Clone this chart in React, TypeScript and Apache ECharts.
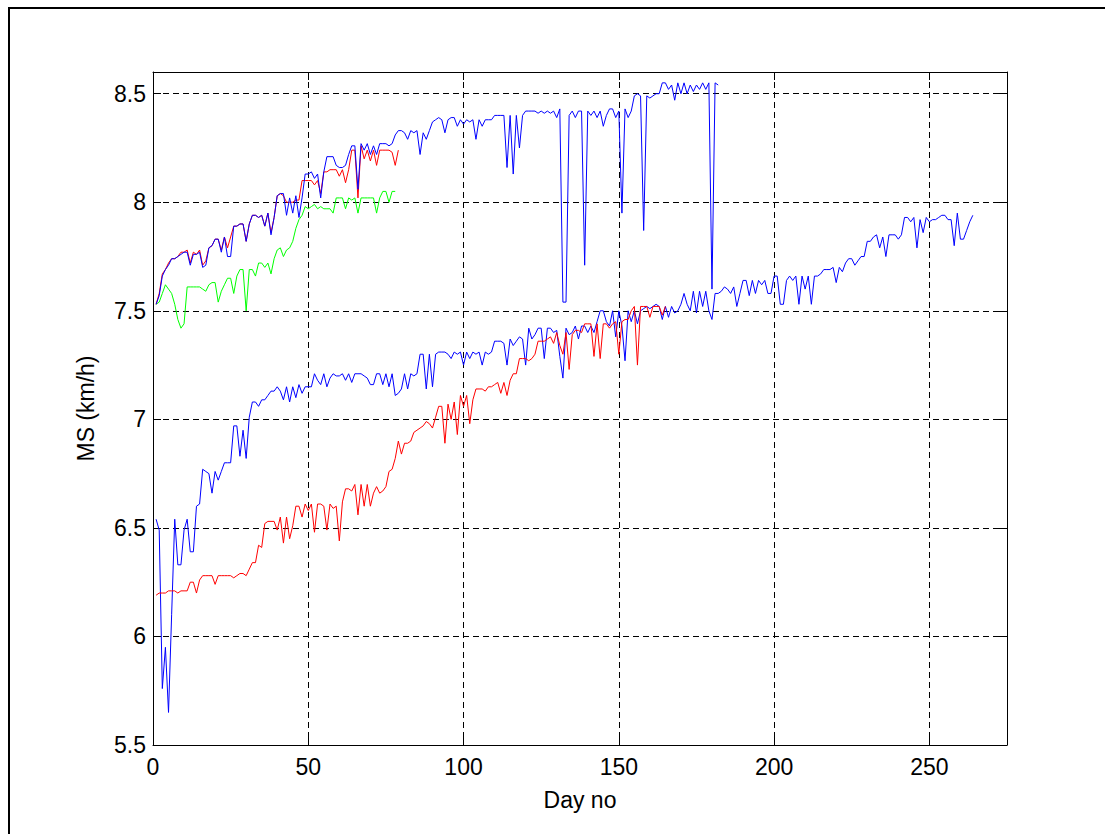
import React, { useEffect, useRef } from "react";
import * as echarts from "echarts";

// Upper blue series, days 1..182
const upperBlue = [
  7.53, 7.57, 7.66, 7.69, 7.71, 7.74, 7.74, 7.75, 7.76, 7.77,
  7.77, 7.71, 7.76, 7.76, 7.77, 7.70, 7.71, 7.79, 7.80, 7.83,
  7.83, 7.77, 7.84, 7.75, 7.75, 7.89, 7.89, 7.90, 7.90, 7.82,
  7.90, 7.94, 7.94, 7.93, 7.94, 7.89, 7.95, 7.85, 7.93, 8.03,
  8.04, 8.04, 7.94, 8.02, 7.95, 8.03, 7.93, 8.02, 8.13, 8.13,
  8.14, 8.11, 8.13, 8.02, 8.14, 8.21, 8.21, 8.21, 8.17, 8.16,
  8.16, 8.17, 8.22, 8.26, 8.26, 8.06, 8.27, 8.24, 8.27, 8.22,
  8.26, 8.22, 8.27, 8.27, 8.27, 8.26, 8.27, 8.31, 8.33, 8.33,
  8.32, 8.29, 8.33, 8.32, 8.33, 8.22, 8.32, 8.29, 8.33, 8.37,
  8.38, 8.39, 8.38, 8.32, 8.38, 8.39, 8.39, 8.35, 8.38, 8.36,
  8.38, 8.37, 8.38, 8.29, 8.38, 8.35, 8.38, 8.38, 8.38, 8.40,
  8.40, 8.40, 8.40, 8.16, 8.40, 8.13, 8.40, 8.25, 8.40, 8.42,
  8.42, 8.42, 8.42, 8.41, 8.42, 8.41, 8.42, 8.41, 8.42, 8.39,
  8.43, 7.54, 7.54, 8.40, 8.42, 8.39, 8.42, 8.42, 7.71, 8.42,
  8.40, 8.42, 8.39, 8.42, 8.35, 8.40, 8.43, 8.43, 8.39, 8.42,
  7.95, 8.43, 8.39, 8.42, 8.49, 8.50, 8.49, 7.87, 8.49, 8.48,
  8.49, 8.50, 8.50, 8.55, 8.55, 8.52, 8.54, 8.47, 8.55, 8.50,
  8.55, 8.50, 8.54, 8.51, 8.54, 8.52, 8.55, 8.52, 8.55, 7.60,
  8.55, 8.54,
];

// Upper red series, days 1..79
const upperRed = [
  7.53, 7.58, 7.67, 7.69, 7.72, 7.74, 7.74, 7.75, 7.77, 7.77,
  7.78, 7.72, 7.77, 7.76, 7.78, 7.71, 7.73, 7.79, 7.80, 7.83,
  7.83, 7.78, 7.84, 7.79, 7.84, 7.89, 7.89, 7.90, 7.90, 7.82,
  7.90, 7.94, 7.94, 7.93, 7.94, 7.89, 7.95, 7.86, 7.93, 8.03,
  8.04, 8.03, 8.00, 8.00, 8.00, 8.01, 8.01, 8.10, 8.10, 8.10,
  8.10, 8.08, 8.10, 8.04, 8.14, 8.14, 8.15, 8.15, 8.15, 8.12,
  8.15, 8.09, 8.15, 8.24, 8.24, 8.02, 8.26, 8.20, 8.24, 8.19,
  8.24, 8.17, 8.24, 8.24, 8.24, 8.24, 8.23, 8.17, 8.24,
];

// Green series, days 1..78
const green = [
  7.53, 7.54, 7.58, 7.62, 7.60, 7.58, 7.53, 7.46, 7.42, 7.44,
  7.61, 7.61, 7.61, 7.61, 7.61, 7.60, 7.59, 7.62, 7.63, 7.63,
  7.54, 7.59, 7.62, 7.65, 7.65, 7.58, 7.66, 7.69, 7.69, 7.50,
  7.69, 7.69, 7.66, 7.72, 7.72, 7.70, 7.72, 7.67, 7.74, 7.78,
  7.79, 7.75, 7.78, 7.79, 7.82, 7.88, 7.92, 7.94, 7.98, 7.97,
  7.98, 7.99, 7.97, 7.98, 7.97, 7.97, 7.97, 7.95, 8.02, 8.02,
  8.02, 7.97, 8.02, 8.01, 8.02, 7.95, 8.02, 8.02, 8.02, 8.02,
  8.02, 7.95, 8.02, 8.05, 8.05, 8.00, 8.05, 8.05,
];

// Lower blue series, days 1..264
const lowerBlue = [
  6.54, 6.49, 5.76, 5.95, 5.65, 6.10, 6.54, 6.33, 6.33, 6.49,
  6.54, 6.39, 6.39, 6.60, 6.61, 6.77, 6.76, 6.75, 6.66, 6.76,
  6.72, 6.76, 6.80, 6.80, 6.80, 6.97, 6.97, 6.83, 6.95, 6.82,
  7.01, 7.08, 7.08, 7.06, 7.09, 7.09, 7.11, 7.13, 7.13, 7.15,
  7.13, 7.09, 7.15, 7.08, 7.15, 7.10, 7.16, 7.12, 7.15, 7.15,
  7.15, 7.21, 7.18, 7.16, 7.21, 7.15, 7.19, 7.21, 7.20, 7.20,
  7.21, 7.18, 7.21, 7.17, 7.21, 7.21, 7.21, 7.20, 7.19, 7.16,
  7.16, 7.21, 7.21, 7.16, 7.21, 7.15, 7.21, 7.11, 7.12, 7.14,
  7.21, 7.14, 7.21, 7.20, 7.21, 7.30, 7.30, 7.14, 7.30, 7.15,
  7.30, 7.31, 7.31, 7.31, 7.30, 7.28, 7.31, 7.30, 7.31, 7.25,
  7.31, 7.28, 7.31, 7.30, 7.31, 7.25, 7.31, 7.30, 7.31, 7.36,
  7.36, 7.36, 7.35, 7.25, 7.37, 7.34, 7.36, 7.38, 7.37, 7.25,
  7.42, 7.37, 7.39, 7.42, 7.42, 7.28, 7.42, 7.42, 7.40, 7.41,
  7.29, 7.19, 7.42, 7.39, 7.40, 7.43, 7.37, 7.43, 7.43, 7.40,
  7.43, 7.40, 7.45, 7.50, 7.50, 7.45, 7.43, 7.50, 7.38, 7.50,
  7.43, 7.27, 7.50, 7.45, 7.50, 7.44, 7.50, 7.51, 7.52, 7.51,
  7.52, 7.53, 7.52, 7.46, 7.52, 7.47, 7.52, 7.49, 7.50, 7.53,
  7.58, 7.53, 7.50, 7.59, 7.49, 7.59, 7.52, 7.59, 7.50, 7.46,
  7.58, 7.58, 7.59, 7.61, 7.60, 7.58, 7.61, 7.52, 7.58, 7.64,
  7.64, 7.57, 7.64, 7.58, 7.64, 7.62, 7.64, 7.58, 7.58, 7.66,
  7.66, 7.53, 7.53, 7.64, 7.66, 7.64, 7.66, 7.53, 7.66, 7.60,
  7.66, 7.53, 7.66, 7.66, 7.67, 7.69, 7.69, 7.69, 7.70, 7.63,
  7.70, 7.68, 7.72, 7.74, 7.74, 7.71, 7.73, 7.75, 7.75, 7.82,
  7.82, 7.84, 7.85, 7.79, 7.84, 7.75, 7.85, 7.85, 7.85, 7.83,
  7.85, 7.93, 7.93, 7.91, 7.93, 7.79, 7.92, 7.86, 7.93, 7.91,
  7.92, 7.92, 7.93, 7.94, 7.94, 7.92, 7.92, 7.80, 7.95, 7.83,
  7.83, 7.87, 7.91, 7.94,
];

// Lower red series, days 1..165
const lowerRed = [
  6.19, 6.20, 6.20, 6.20, 6.21, 6.21, 6.21, 6.20, 6.21, 6.21,
  6.21, 6.25, 6.25, 6.20, 6.26, 6.28, 6.28, 6.28, 6.28, 6.24,
  6.28, 6.28, 6.28, 6.28, 6.28, 6.27, 6.28, 6.29, 6.29, 6.28,
  6.31, 6.34, 6.34, 6.42, 6.41, 6.52, 6.53, 6.53, 6.53, 6.49,
  6.55, 6.43, 6.55, 6.45, 6.51, 6.60, 6.60, 6.55, 6.61, 6.58,
  6.61, 6.48, 6.61, 6.61, 6.60, 6.49, 6.61, 6.59, 6.60, 6.44,
  6.62, 6.68, 6.68, 6.67, 6.70, 6.56, 6.70, 6.60, 6.70, 6.60,
  6.66, 6.69, 6.66, 6.67, 6.69, 6.76, 6.77, 6.82, 6.90, 6.84,
  6.89, 6.89, 6.90, 6.94, 6.95, 6.96, 6.97, 6.99, 6.98, 6.96,
  7.01, 7.06, 7.06, 6.89, 7.07, 7.00, 7.08, 6.93, 7.11, 7.06,
  7.11, 6.98, 7.09, 7.14, 7.14, 7.14, 7.13, 7.15, 7.15, 7.16,
  7.17, 7.12, 7.17, 7.11, 7.18, 7.21, 7.21, 7.28, 7.28, 7.28,
  7.27, 7.28, 7.30, 7.36, 7.36, 7.36, 7.37, 7.38, 7.35, 7.40,
  7.34, 7.30, 7.40, 7.23, 7.39, 7.41, 7.41, 7.40, 7.44, 7.44,
  7.44, 7.29, 7.44, 7.28, 7.44, 7.44, 7.42, 7.44, 7.45, 7.30,
  7.45, 7.46, 7.46, 7.50, 7.52, 7.25, 7.52, 7.52, 7.52, 7.47,
  7.52, 7.52, 7.52, 7.48, 7.52,
];

const xTicks = [0, 50, 100, 150, 200, 250];
const yTicks = [5.5, 6, 6.5, 7, 7.5, 8, 8.5];

const toPairs = (arr: number[]) => arr.map((v, i) => [i + 1, v]);

const FONT = "'Liberation Sans', Arial, Helvetica, sans-serif";

export default function App() {
  const ref = useRef<HTMLDivElement>(null);
  useEffect(() => {
    if (!ref.current) return;
    const chart = echarts.init(ref.current, null, { renderer: "svg" });
    const lbl = {
      color: "#000",
      fontSize: 23,
      fontFamily: FONT,
    };
    const mkX = (pos: "bottom" | "top", main: boolean) => ({
      type: "value",
      position: pos,
      min: 0,
      max: 275,
      interval: 50,
      name: main ? "Day no" : "",
      nameLocation: "middle",
      nameGap: 43,
      nameTextStyle: { ...lbl, fontSize: 23 },
      axisLine: { show: true, onZero: false, lineStyle: { color: "#000", width: 1 } },
      axisTick: { show: true, inside: true, length: 8, lineStyle: { color: "#000" } },
      axisLabel: {
        show: main,
        ...lbl,
        margin: 10,
        showMaxLabel: false,
        formatter: (v: number) => (xTicks.includes(v) ? String(v) : ""),
      },
      splitLine: main
        ? { show: true, lineStyle: { color: "#000", type: [6, 4], width: 1 } }
        : { show: false },
    });
    const mkY = (pos: "left" | "right", main: boolean) => ({
      type: "value",
      position: pos,
      min: 5.5,
      max: 8.6,
      interval: 0.5,
      name: main ? "MS (km/h)" : "",
      nameLocation: "middle",
      nameGap: 56,
      nameRotate: 90,
      nameTextStyle: { ...lbl, fontSize: 23 },
      axisLine: { show: true, onZero: false, lineStyle: { color: "#000", width: 1 } },
      axisTick: { show: true, inside: true, length: 8, lineStyle: { color: "#000" } },
      axisLabel: {
        show: main,
        ...lbl,
        margin: 7,
        showMaxLabel: false,
        formatter: (v: number) =>
          yTicks.some((t) => Math.abs(t - v) < 1e-9) ? String(v) : "",
      },
      splitLine: main
        ? { show: true, lineStyle: { color: "#000", type: [6, 4], width: 1 } }
        : { show: false },
    });
    const line = (name: string, data: number[], color: string) => ({
      name,
      type: "line",
      data: toPairs(data),
      showSymbol: false,
      symbol: "none",
      lineStyle: { color, width: 1 },
      itemStyle: { color },
      xAxisIndex: 0,
      yAxisIndex: 0,
    });
    chart.setOption({
      animation: false,
      backgroundColor: "#fff",
      grid: { left: 153, top: 72, width: 854, height: 673, containLabel: false },
      xAxis: [mkX("bottom", true), mkX("top", false)],
      yAxis: [mkY("left", true), mkY("right", false)],
      graphic: [
        {
          type: "line",
          shape: { x1: 9, y1: 8, x2: 9, y2: 834 },
          style: { stroke: "#000", lineWidth: 2 },
        },
        {
          type: "line",
          shape: { x1: 8, y1: 8, x2: 1105, y2: 8 },
          style: { stroke: "#000", lineWidth: 2 },
        },
      ],
      series: [
        line("Green", green, "#00ff00"),
        line("Upper red", upperRed, "#ff0000"),
        line("Upper blue", upperBlue, "#0000ff"),
        line("Lower blue", lowerBlue, "#0000ff"),
        line("Lower red", lowerRed, "#ff0000"),
      ],
    });
    return () => chart.dispose();
  }, []);
  return (
    <div
      ref={ref}
      style={{
        position: "fixed",
        left: 0,
        top: 0,
        width: 1105,
        height: 834,
        background: "#fff",
      }}
    />
  );
}
